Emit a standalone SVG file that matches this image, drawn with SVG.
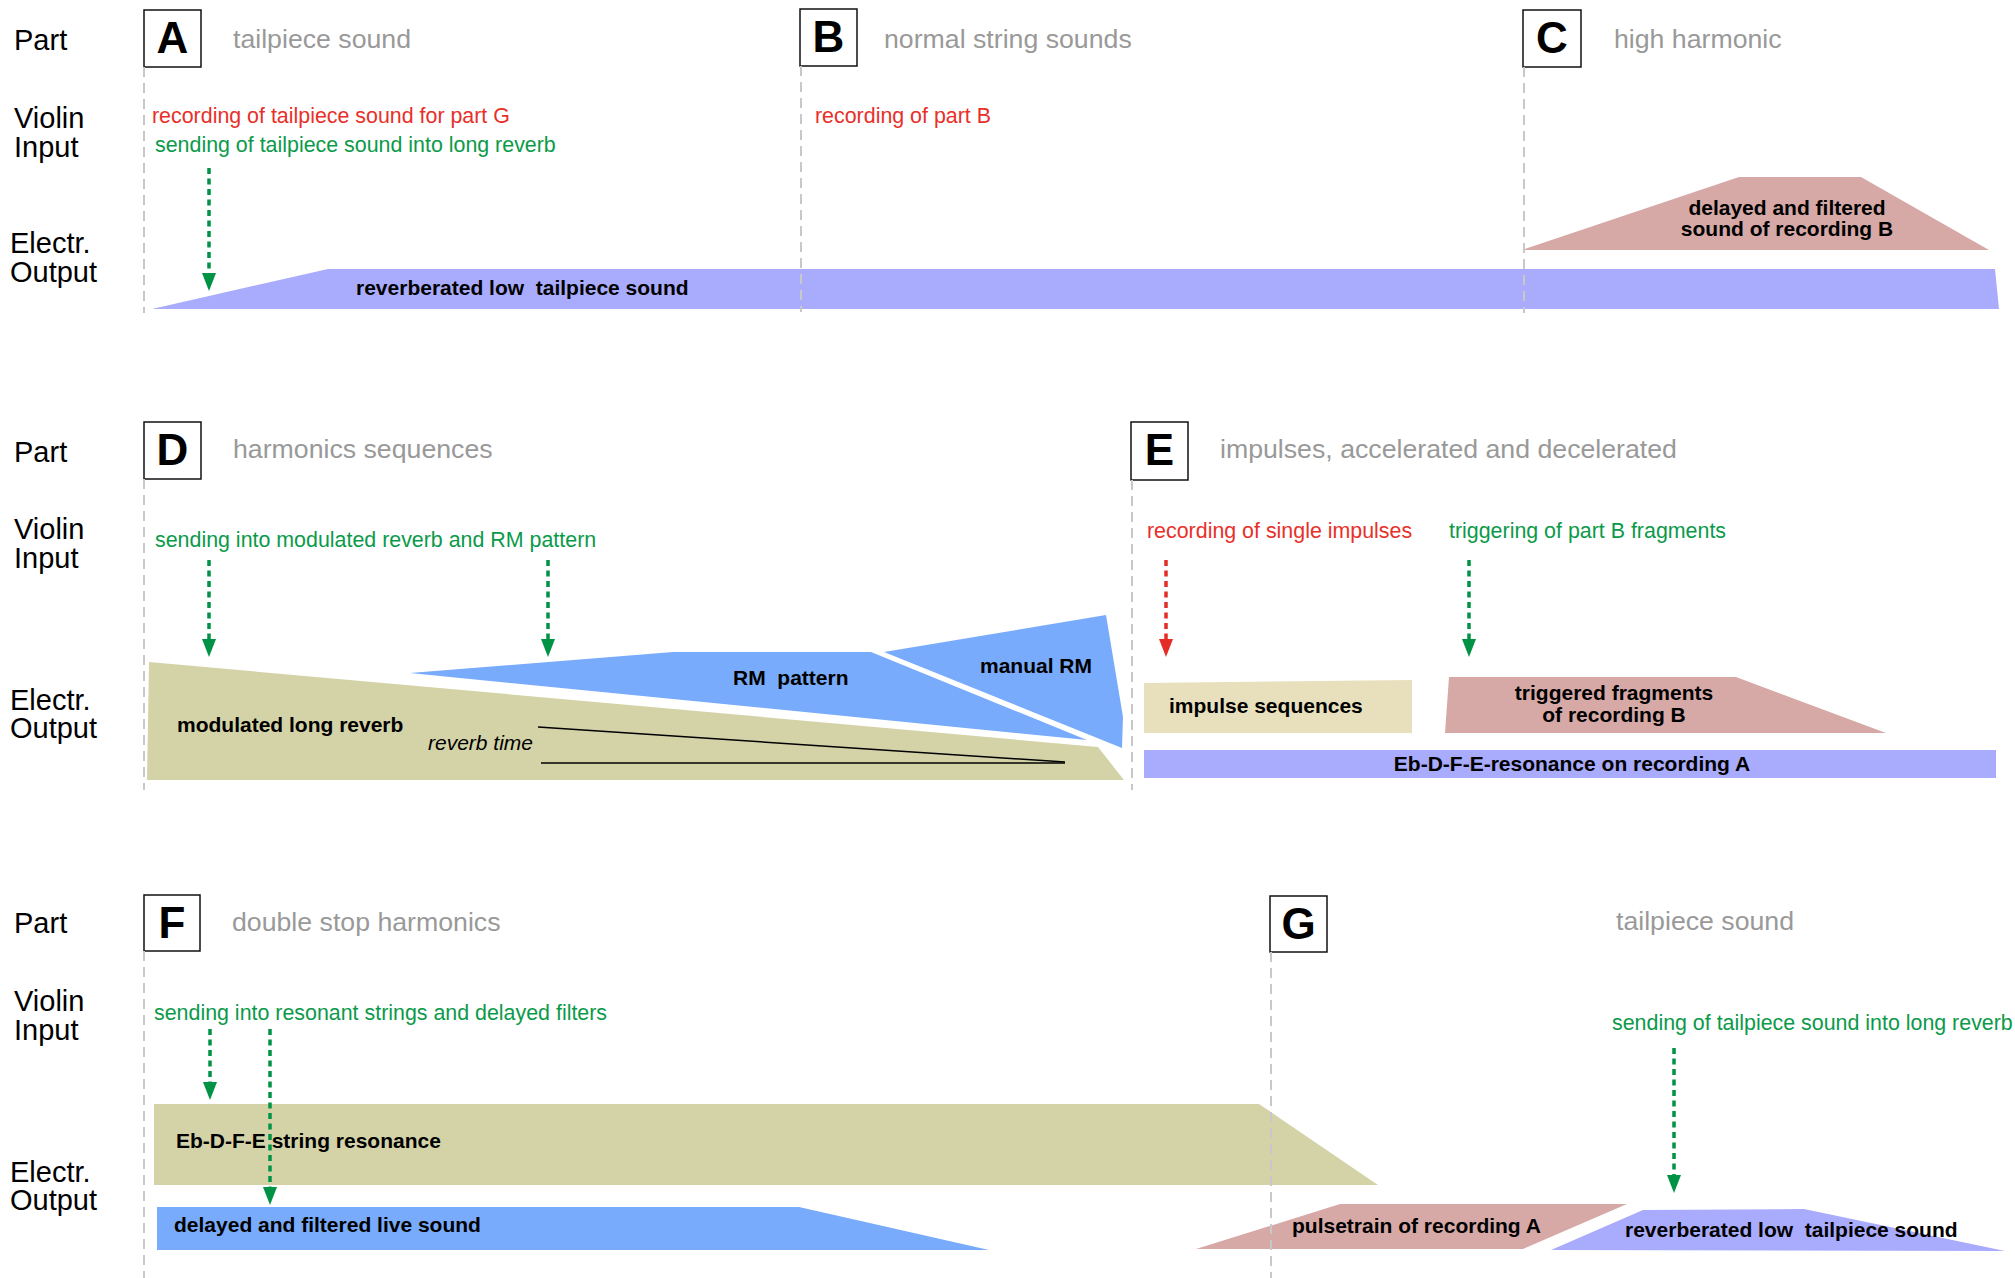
<svg xmlns="http://www.w3.org/2000/svg" width="2015" height="1278" viewBox="0 0 2015 1278">
<style>
  text { font-family: "Liberation Sans", Arial, sans-serif; }
  .row { font-size: 29px; fill: #000; }
  .letter { font-size: 44px; font-weight: bold; fill: #000; text-anchor: middle; }
  .sub { font-size: 26.7px; fill: #999; }
  .red { font-size: 21.4px; fill: #e8302a; }
  .grn { font-size: 21.4px; fill: #0b9a4a; }
  .lbl { font-size: 21px; font-weight: bold; fill: #000; }
  .mid { text-anchor: middle; }
  .box { fill: #fff; stroke: #111; stroke-width: 1.5; }
  .guide { stroke: #c8c8c8; stroke-width: 2; stroke-dasharray: 10 6; fill: none; }
  .lav { fill: #a9abfc; }
  .kha { fill: #d4d3a8; }
  .pink { fill: #d6a9a7; }
  .blue { fill: #78abfc; }
  .beige { fill: #e8e0bc; }
  .ga { stroke: #009245; stroke-width: 3.5; stroke-dasharray: 6 4.5; fill: none; marker-end: url(#ahG); }
  .ra { stroke: #e32d26; stroke-width: 3.5; stroke-dasharray: 6 4.5; fill: none; marker-end: url(#ahR); }
</style>
<defs>
  <marker id="ahG" markerUnits="userSpaceOnUse" markerWidth="18" markerHeight="14" viewBox="0 0 18 14" refX="1" refY="7" orient="auto">
    <path d="M0,0 L18,7 L0,14 Z" fill="#009245"/>
  </marker>
  <marker id="ahR" markerUnits="userSpaceOnUse" markerWidth="18" markerHeight="14" viewBox="0 0 18 14" refX="1" refY="7" orient="auto">
    <path d="M0,0 L18,7 L0,14 Z" fill="#e32d26"/>
  </marker>
</defs>
<rect width="2015" height="1278" fill="#fff"/>

<g id="row-labels">
  <text class="row" x="14" y="50">Part</text>
  <text class="row" x="14" y="128">Violin</text>
  <text class="row" x="14" y="157">Input</text>
  <text class="row" x="10" y="253">Electr.</text>
  <text class="row" x="10" y="282">Output</text>
  <text class="row" x="14" y="462">Part</text>
  <text class="row" x="14" y="539">Violin</text>
  <text class="row" x="14" y="568">Input</text>
  <text class="row" x="10" y="710">Electr.</text>
  <text class="row" x="10" y="738">Output</text>
  <text class="row" x="14" y="933">Part</text>
  <text class="row" x="14" y="1011">Violin</text>
  <text class="row" x="14" y="1040">Input</text>
  <text class="row" x="10" y="1182">Electr.</text>
  <text class="row" x="10" y="1210">Output</text>
</g>

<!-- Part A -->
<g id="part-A">
  <rect class="box" x="144" y="10" width="57" height="57"/>
  <text class="letter" x="172.5" y="53">A</text>
  <text class="sub" x="233" y="48">tailpiece sound</text>
  <text class="red" x="152" y="123">recording of tailpiece sound for part G</text>
  <text class="grn" x="155" y="152">sending of tailpiece sound into long reverb</text>
</g>
<g id="out-A-reverb">
  <polygon class="lav" points="152,309 328,269 1995,269 1999,309"/>
  <text class="lbl" x="356" y="295" xml:space="preserve">reverberated low  tailpiece sound</text>
</g>

<!-- Part B -->
<g id="part-B">
  <rect class="box" x="800" y="9" width="57" height="57"/>
  <text class="letter" x="828.5" y="52">B</text>
  <text class="sub" x="884" y="48">normal string sounds</text>
  <text class="red" x="815" y="123">recording of part B</text>
</g>

<!-- Part C -->
<g id="part-C">
  <rect class="box" x="1523" y="10" width="58" height="57"/>
  <text class="letter" x="1552" y="53">C</text>
  <text class="sub" x="1614" y="48">high harmonic</text>
</g>
<g id="out-C-delayed">
  <polygon class="pink" points="1522,250 1739,177 1861,177 1989,250"/>
  <text class="lbl mid" x="1787" y="215">delayed and filtered</text>
  <text class="lbl mid" x="1787" y="236">sound of recording B</text>
</g>

<!-- Part D -->
<g id="part-D">
  <rect class="box" x="144" y="422" width="57" height="57"/>
  <text class="letter" x="172.5" y="465">D</text>
  <text class="sub" x="233" y="458">harmonics sequences</text>
  <text class="grn" x="155" y="547">sending into modulated reverb and RM pattern</text>
</g>
<g id="out-D-reverb">
  <polygon class="kha" points="149,662 1098,747 1124,780 147,780"/>
  <text class="lbl" x="177" y="732">modulated long reverb</text>
  <text x="428" y="750" font-size="21" font-style="italic" fill="#000">reverb time</text>
  <line x1="538" y1="727" x2="1065" y2="762" stroke="#000" stroke-width="1.5"/>
  <line x1="541" y1="763" x2="1065" y2="763" stroke="#000" stroke-width="1.5"/>
</g>
<g id="out-D-rm">
  <polygon class="blue" points="410,673 673,652 871,652 1087,740"/>
  <text class="lbl" x="733" y="685" xml:space="preserve">RM  pattern</text>
</g>
<g id="out-D-manual">
  <polygon class="blue" points="884,652 1106,615 1123,717 1122,748"/>
  <text class="lbl" x="980" y="673">manual RM</text>
</g>

<!-- Part E -->
<g id="part-E">
  <rect class="box" x="1131" y="422" width="57" height="58"/>
  <text class="letter" x="1159.5" y="465">E</text>
  <text class="sub" x="1220" y="458">impulses, accelerated and decelerated</text>
  <text class="red" x="1147" y="538">recording of single impulses</text>
  <text class="grn" x="1449" y="538">triggering of part B fragments</text>
</g>
<g id="out-E-impulse">
  <polygon class="beige" points="1144,683 1412,680 1412,733 1144,733"/>
  <text class="lbl" x="1169" y="713">impulse sequences</text>
</g>
<g id="out-E-fragments">
  <polygon class="pink" points="1449,677 1736,677 1886,733 1445,733"/>
  <text class="lbl mid" x="1614" y="700">triggered fragments</text>
  <text class="lbl mid" x="1614" y="722">of recording B</text>
</g>
<g id="out-E-resonance">
  <rect class="lav" x="1144" y="750" width="852" height="28"/>
  <text class="lbl mid" x="1572" y="771">Eb-D-F-E-resonance on recording A</text>
</g>

<!-- Part F -->
<g id="part-F">
  <rect class="box" x="144" y="895" width="56" height="56"/>
  <text class="letter" x="172" y="938">F</text>
  <text class="sub" x="232" y="931">double stop harmonics</text>
  <text class="grn" x="154" y="1020">sending into resonant strings and delayed filters</text>
</g>
<g id="out-F-resonance">
  <polygon class="kha" points="154,1104 1259,1104 1378,1185 154,1185"/>
  <text class="lbl" x="176" y="1148">Eb-D-F-E string resonance</text>
</g>
<g id="out-F-delayed">
  <polygon class="blue" points="157,1207 799,1207 989,1250 157,1250"/>
  <text class="lbl" x="174" y="1232">delayed and filtered live sound</text>
</g>

<!-- Part G -->
<g id="part-G">
  <rect class="box" x="1270" y="896" width="57" height="56"/>
  <text class="letter" x="1298.5" y="939">G</text>
  <text class="sub" x="1616" y="930">tailpiece sound</text>
  <text class="grn" x="1612" y="1030">sending of tailpiece sound into long reverb</text>
</g>
<g id="out-G-pulsetrain">
  <polygon class="pink" points="1196,1249 1340,1204 1627,1204 1523,1249"/>
  <text class="lbl" x="1292" y="1233">pulsetrain of recording A</text>
</g>
<g id="out-G-reverb">
  <polygon class="lav" points="1551,1250 1643,1210 1804,1209 2005,1251"/>
  <text class="lbl" x="1625" y="1237" xml:space="preserve">reverberated low  tailpiece sound</text>
</g>

<g id="guides">
  <line class="guide" x1="144" y1="67" x2="144" y2="313"/>
  <line class="guide" x1="801" y1="66" x2="801" y2="312"/>
  <line class="guide" x1="1524" y1="67" x2="1524" y2="313"/>
  <line class="guide" x1="144" y1="479" x2="144" y2="790"/>
  <line class="guide" x1="1132" y1="480" x2="1132" y2="790"/>
  <line class="guide" x1="144" y1="951" x2="144" y2="1278"/>
  <line class="guide" x1="1271" y1="952" x2="1271" y2="1278"/>
</g>

<g id="connectors">
  <line class="ga" x1="209" y1="168" x2="209" y2="274"/>
  <line class="ga" x1="209" y1="560" x2="209" y2="640"/>
  <line class="ga" x1="548" y1="560" x2="548" y2="640"/>
  <line class="ra" x1="1166" y1="560" x2="1166" y2="640"/>
  <line class="ga" x1="1469" y1="560" x2="1469" y2="640"/>
  <line class="ga" x1="210" y1="1029" x2="210" y2="1083"/>
  <line class="ga" x1="270" y1="1029" x2="270" y2="1188"/>
  <line class="ga" x1="1674" y1="1048" x2="1674" y2="1176"/>
</g>
</svg>
